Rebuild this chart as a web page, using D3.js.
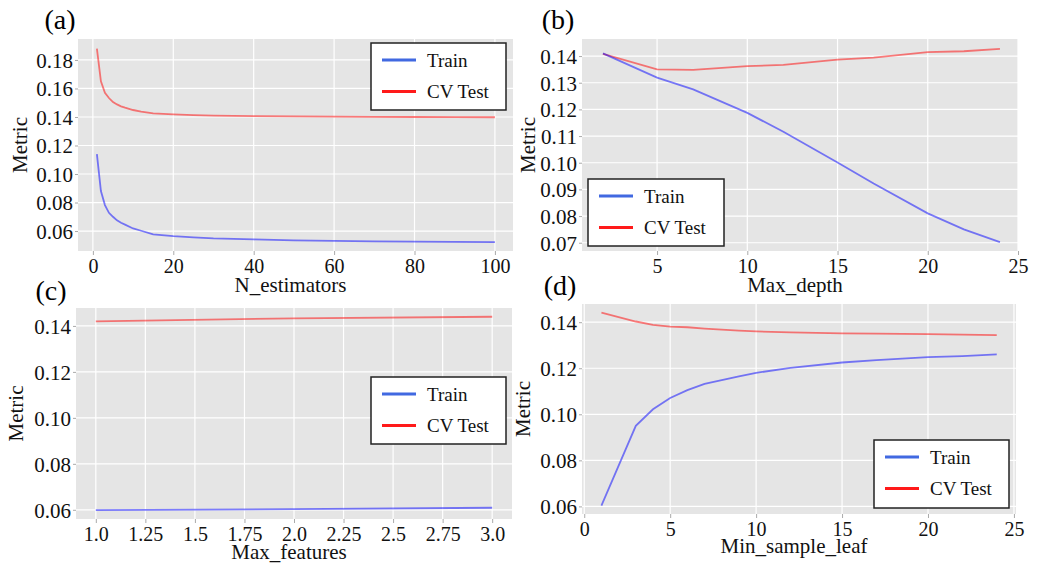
<!DOCTYPE html>
<html>
<head>
<meta charset="utf-8">
<script src="https://cdn.jsdelivr.net/npm/d3@7"></script>
<style>
  body { margin: 0; background: #fff; }
  svg, svg text { font-family: 'Liberation Serif', 'Times New Roman', 'DejaVu Serif', serif; }
</style>
</head>
<body>
<svg width="1037" height="565"></svg>
<script>
// (a) n_estimators
const nEstX = [1, 2, 3, 4, 5, 6, 7, 8, 10, 12, 15, 20, 25, 30, 40, 50, 60, 70, 80, 90, 100];
const nEstTrain = [0.114, 0.088, 0.0782, 0.0728, 0.070, 0.0675, 0.0658, 0.0645, 0.0618, 0.0602, 0.0577, 0.0564, 0.0555, 0.0548, 0.0541, 0.0535, 0.0531, 0.0528, 0.0526, 0.0524, 0.0522];
const nEstTest = [0.188, 0.165, 0.157, 0.1533, 0.1505, 0.1488, 0.1475, 0.1465, 0.1449, 0.1438, 0.1426, 0.1418, 0.1413, 0.1409, 0.1406, 0.1404, 0.1402, 0.1401, 0.1400, 0.1399, 0.1398];

// (b) max_depth
const depthX = [2, 5, 7, 10, 12, 15, 17, 20, 22, 24];
const depthTrain = [0.141, 0.1319, 0.1275, 0.1187, 0.1116, 0.1001, 0.0922, 0.081, 0.075, 0.0702];
const depthTest = [0.1408, 0.135, 0.1348, 0.1362, 0.1367, 0.1387, 0.1394, 0.1415, 0.1418, 0.1427];

// (c) max_features
const featX = [1, 2, 3];
const featTrain = [0.0599, 0.0603, 0.0609];
const featTest = [0.1420, 0.1433, 0.1440];

// (d) min_sample_leaf
const leafX = [1, 3, 4, 5, 6, 7, 9, 10, 12, 15, 17, 20, 22, 24];
const leafTrain = [0.0603, 0.095, 0.1022, 0.1071, 0.1105, 0.1132, 0.1165, 0.118, 0.1202, 0.1225, 0.1235, 0.1248, 0.1253, 0.126];
const leafTest = [0.1442, 0.1403, 0.1388, 0.1381, 0.1378, 0.1372, 0.1363, 0.136, 0.1356, 0.1351, 0.135, 0.1348, 0.1346, 0.1344];

// tick values
const nEstTicks = [0, 20, 40, 60, 80, 100];
const nEstYTicks = [0.06, 0.08, 0.10, 0.12, 0.14, 0.16, 0.18];
const depthTicks = [5, 10, 15, 20, 25];
const depthYTicks = [0.07, 0.08, 0.09, 0.10, 0.11, 0.12, 0.13, 0.14];
const featTicks = [1, 1.25, 1.5, 1.75, 2, 2.25, 2.5, 2.75, 3];
const featYTicks = [0.06, 0.08, 0.10, 0.12, 0.14];
const leafTicks = [0, 5, 10, 15, 20, 25];
const leafYTicks = [0.06, 0.08, 0.10, 0.12, 0.14];

const seriesNames = ["Train", "CV Test"];

const FONT = "'Liberation Serif', 'Times New Roman', 'DejaVu Serif', serif";

const svg = d3.select("svg").attr("font-family", FONT);

// panel layout (pixel boxes of each plot area, legend box, etc.)
const panels = [
  { tag: "(a)", tagX: 60, tagY: 29, xTitle: "N_estimators",
    x: nEstX, train: nEstTrain, test: nEstTest,
    xTicks: nEstTicks, yTicks: nEstYTicks, xFmt: d3.format("d"),
    box: [78, 39, 513, 251], xDom: [-3.7, 104.5], yDom: [0.046, 0.1947],
    titleY: 292, metricX: 20, legend: [371, 43, 135, 67] },
  { tag: "(b)", tagX: 558, tagY: 29, xTitle: "Max_depth",
    x: depthX, train: depthTrain, test: depthTest,
    xTicks: depthTicks, yTicks: depthYTicks, xFmt: d3.format("d"),
    box: [582, 39, 1018, 251], xDom: [0.84, 25.0], yDom: [0.0669, 0.1464],
    titleY: 292, metricX: 528, legend: [588, 179, 136, 67] },
  { tag: "(c)", tagX: 51, tagY: 300, xTitle: "Max_features",
    x: featX, train: featTrain, test: featTest,
    xTicks: featTicks, yTicks: featYTicks, xFmt: d => d % 1 === 0 ? d.toFixed(1) : String(d),
    box: [76, 308, 512, 519], xDom: [0.9, 3.1], yDom: [0.056, 0.1478],
    titleY: 559, metricX: 16, legend: [371, 377, 135, 67] },
  { tag: "(d)", tagX: 560, tagY: 295, xTitle: "Min_sample_leaf",
    x: leafX, train: leafTrain, test: leafTest,
    xTicks: leafTicks, yTicks: leafYTicks, xFmt: d3.format("d"),
    box: [582, 304, 1016, 514], xDom: [-0.13, 25.12], yDom: [0.0567, 0.1479],
    titleY: 553, metricX: 523, legend: [874, 440, 135, 68] }
];

panels.forEach(p => {
  const [x0, y0, x1, y1] = p.box;
  const xs = d3.scaleLinear().domain(p.xDom).range([x0, x1]);
  const ys = d3.scaleLinear().domain(p.yDom).range([y1, y0]);
  const g = svg.append("g");

  // plot background
  g.append("rect")
    .attr("x", x0).attr("y", y0)
    .attr("width", x1 - x0).attr("height", y1 - y0)
    .attr("fill", "#e5e5e5");

  // grid
  g.selectAll(".gx").data(p.xTicks).enter().append("line")
    .attr("x1", d => xs(d)).attr("x2", d => xs(d))
    .attr("y1", y0).attr("y2", y1)
    .attr("stroke", "#fff").attr("stroke-width", 1.2);
  g.selectAll(".gy").data(p.yTicks).enter().append("line")
    .attr("x1", x0).attr("x2", x1)
    .attr("y1", d => ys(d)).attr("y2", d => ys(d))
    .attr("stroke", "#fff").attr("stroke-width", 1.2);

  // axes
  const xa = g.append("g")
    .attr("transform", "translate(0," + y1 + ")")
    .call(d3.axisBottom(xs).tickValues(p.xTicks).tickFormat(p.xFmt).tickSize(4).tickSizeOuter(0))
    .attr("font-family", FONT).attr("font-size", 20);
  xa.select(".domain").remove();
  xa.selectAll("line").attr("stroke", "#aaa");
  xa.selectAll("text").attr("y", 22).attr("dy", null).attr("fill", "#111");

  const ya = g.append("g")
    .attr("transform", "translate(" + x0 + ",0)")
    .call(d3.axisLeft(ys).tickValues(p.yTicks).tickFormat(d3.format(".2f")).tickSize(3).tickSizeOuter(0))
    .attr("font-family", FONT).attr("font-size", 21);
  ya.select(".domain").remove();
  ya.selectAll("line").attr("stroke", "#aaa");
  ya.selectAll("text").attr("x", -5).attr("dy", "0.35em").attr("fill", "#111");

  // lines
  const line = d3.line().x(d => xs(d[0])).y(d => ys(d[1]));
  g.append("path")
    .datum(d3.zip(p.x, p.test))
    .attr("d", line).attr("fill", "none")
    .attr("stroke", "red").attr("stroke-opacity", 0.5).attr("stroke-width", 1.8);
  g.append("path")
    .datum(d3.zip(p.x, p.train))
    .attr("d", line).attr("fill", "none")
    .attr("stroke", "blue").attr("stroke-opacity", 0.5).attr("stroke-width", 1.8);

  // titles
  g.append("text").attr("x", p.tagX).attr("y", p.tagY)
    .attr("text-anchor", "middle").attr("font-size", 28).text(p.tag);
  g.append("text").attr("x", (x0 + x1) / 2 - 5).attr("y", p.titleY)
    .attr("text-anchor", "middle").attr("font-size", 21).attr("fill", "#111").text(p.xTitle);
  g.append("text")
    .attr("transform", "translate(" + p.metricX + "," + (y0 + y1) / 2 + ") rotate(-90)")
    .attr("text-anchor", "middle").attr("dy", "0.35em")
    .attr("font-size", 21).attr("fill", "#111").text("Metric");

  // legend
  const [lx, ly, lw, lh] = p.legend;
  const lg = g.append("g").attr("transform", "translate(" + lx + "," + ly + ")");
  lg.append("rect").attr("width", lw).attr("height", lh)
    .attr("fill", "#fff").attr("stroke", "#222").attr("stroke-width", 1.5);
  const legColors = ["#4169e1", "#ff1a1a"];
  seriesNames.forEach((name, i) => {
    const yy = 17 + i * 31.5;
    lg.append("line").attr("x1", 11).attr("x2", 45).attr("y1", yy).attr("y2", yy)
      .attr("stroke", legColors[i]).attr("stroke-width", 2.8);
    lg.append("text").attr("x", 56).attr("y", yy).attr("dy", "0.35em")
      .attr("font-size", 19).attr("fill", "#111").text(name);
  });
});
</script>
</body>
</html>
